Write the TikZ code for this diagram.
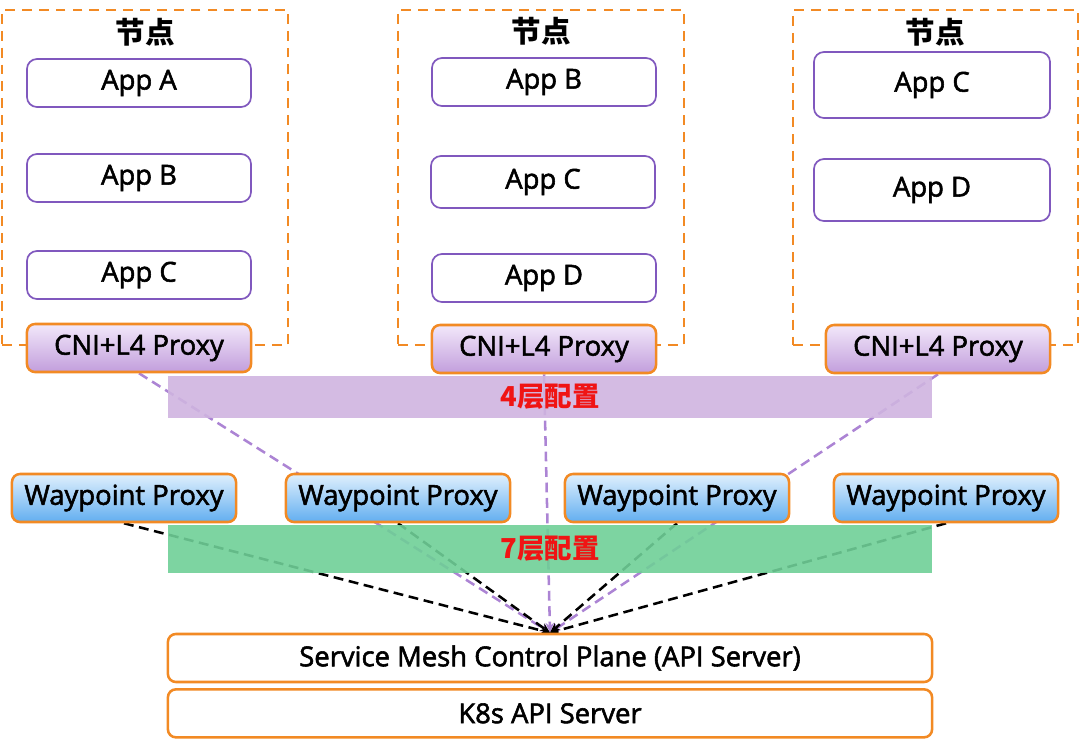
\documentclass[tikz,border=0pt]{standalone}
\usepackage{fontspec}
\setmainfont{Open Sans}[UprightFeatures={FakeBold=2}]
\newfontfamily\cjk{Noto Sans CJK SC}
\usetikzlibrary{arrows.meta,positioning,backgrounds}
\definecolor{MeshOrange}{RGB}{242,138,36}
\definecolor{AppPurple}{RGB}{128,88,190}
\definecolor{CniTop}{RGB}{242,232,250}
\definecolor{CniBottom}{RGB}{194,158,220}
\definecolor{WpTop}{RGB}{224,240,253}
\definecolor{WpBottom}{RGB}{98,174,240}
\definecolor{LFourBand}{RGB}{207,180,224}
\definecolor{LSevenBand}{RGB}{111,207,151}
\definecolor{LFourLine}{RGB}{172,132,212}
\definecolor{LabelRed}{RGB}{240,20,20}
\tikzset{
  hostbox/.style={draw=MeshOrange,line width=1.8pt,dash pattern=on 7pt off 5pt,
    minimum width=7.15cm,minimum height=8.375cm},
  hosttitle/.style={font=\cjk\bfseries\fontsize{21}{25}\selectfont,anchor=north},
  appbox/.style={draw=AppPurple,line width=1.2pt,rounded corners=0.25cm,fill=white,
    minimum width=5.6cm,minimum height=1.2cm,font=\fontsize{19.5}{23}\selectfont},
  cniproxy/.style={draw=MeshOrange,line width=1.8pt,rounded corners=0.2cm,
    top color=CniTop,bottom color=CniBottom,minimum width=5.6cm,minimum height=1.2cm,
    font=\fontsize{19.5}{23}\selectfont},
  wpproxy/.style={draw=MeshOrange,line width=1.8pt,rounded corners=0.2cm,
    top color=WpTop,bottom color=WpBottom,minimum width=5.6cm,minimum height=1.2cm,
    font=\fontsize{19.5}{23}\selectfont},
  plane/.style={draw=MeshOrange,line width=1.8pt,rounded corners=0.2cm,fill=white,
    minimum width=19.1cm,minimum height=1.2cm,font=\fontsize{19.5}{23}\selectfont},
  band/.style={minimum width=19.1cm,inner sep=0pt,fill opacity=0.9,text opacity=1,
    text=LabelRed,font=\cjk\bfseries\fontsize{19.5}{23}\selectfont},
  lfour/.style={LFourLine,line width=1.8pt,dash pattern=on 7pt off 4pt,
    -{Stealth[length=7pt,width=6pt]}},
  lseven/.style={black,line width=1.8pt,dash pattern=on 7pt off 4pt,
    -{Stealth[length=7pt,width=6pt]}}
}
\begin{document}
\begin{tikzpicture}[x=0.025cm,y=-0.025cm]
  \useasboundingbox (0,0) rectangle (1080,744);
  % nodes (hosts)
  \node[hostbox] (h1) at (145,177.5) {};
  \node[hostbox] (h2) at (541,177.5) {};
  \node[hostbox,minimum width=7.125cm] (h3) at (935.5,177.5) {};
  \node[hosttitle,below=0.12cm of h1.north] (t1) {节点};
  \node[hosttitle,below=0.08cm of h2.north] (t2) {节点};
  \node[hosttitle,below=0.12cm of h3.north] (t3) {节点};
  % apps
  \node[appbox] (a1) at (139,83) {App A};
  \node[appbox] (b1) at (139,178) {App B};
  \node[appbox] (c1) at (139,275) {App C};
  \node[appbox] (b2) at (544,82) {App B};
  \node[appbox,minimum height=1.3cm] (c2) at (543,182) {App C};
  \node[appbox] (d2) at (544,278) {App D};
  \node[appbox,minimum width=5.9cm,minimum height=1.65cm] (c3) at (932,85) {App C};
  \node[appbox,minimum width=5.9cm,minimum height=1.55cm] (d3) at (932,190) {App D};
  % proxies
  \node[cniproxy] (cni1) at (139,348) {CNI+L4 Proxy};
  \node[cniproxy] (cni2) at (544,349) {CNI+L4 Proxy};
  \node[cniproxy] (cni3) at (938,349) {CNI+L4 Proxy};
  \node[wpproxy] (wp1) at (124,498) {Waypoint Proxy};
  \node[wpproxy] (wp2) at (398,498) {Waypoint Proxy};
  \node[wpproxy] (wp3) at (677,498) {Waypoint Proxy};
  \node[wpproxy] (wp4) at (946,498) {Waypoint Proxy};
  % control plane
  \node[plane] (cp) at (550,658) {Service Mesh Control Plane (API Server)};
  \node[plane,below=0.12cm of cp] (k8s) {K8s API Server};
  \coordinate (hub) at (cp.north);
  \begin{scope}[on background layer]
    \foreach \p in {cni1,cni2,cni3}
      \draw[lfour] (\p.south) -- (hub);
    \foreach \w in {wp1,wp2,wp3,wp4}
      \draw[lseven] (\w.south) -- (hub);
    \node[band,fill=LFourBand,minimum height=1.05cm] (l4) at (550,397) {4层配置};
    \node[band,fill=LSevenBand,minimum height=1.2cm] (l7) at (550,549) {7层配置};
  \end{scope}
\end{tikzpicture}
\end{document}
